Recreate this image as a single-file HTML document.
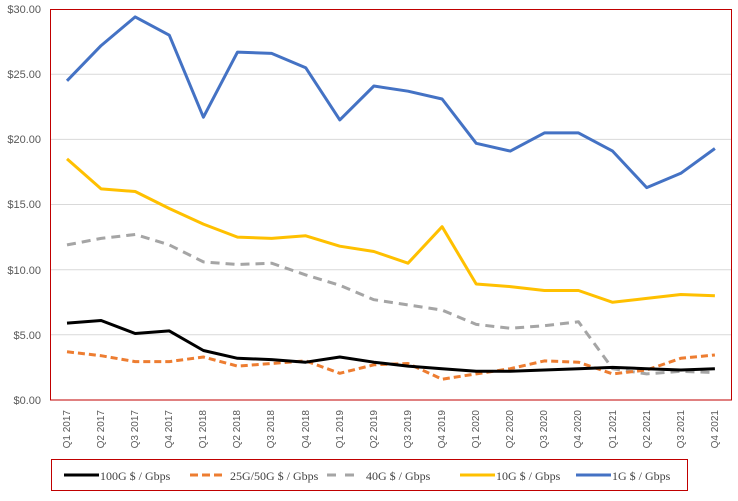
<!DOCTYPE html>
<html><head><meta charset="utf-8"><style>
body{margin:0;background:#fff;}
svg{display:block;font-family:"Liberation Sans",sans-serif;}
</style></head><body>
<svg id="c" width="738" height="501" viewBox="0 0 738 501" xmlns="http://www.w3.org/2000/svg">
<rect width="738" height="501" fill="#fff"/>
<g stroke="#d9d9d9" stroke-width="1">
<line x1="50" x2="732" y1="334.8" y2="334.8"/>
<line x1="50" x2="732" y1="269.7" y2="269.7"/>
<line x1="50" x2="732" y1="204.5" y2="204.5"/>
<line x1="50" x2="732" y1="139.4" y2="139.4"/>
<line x1="50" x2="732" y1="74.2" y2="74.2"/>
<line x1="50" x2="732" y1="400" y2="400"/>
</g>
<rect x="50.5" y="9.5" width="681" height="390.5" fill="none" stroke="#c00000" stroke-width="1"/>
<g font-size="11" fill="#595959" text-anchor="end">
<text x="41" y="404">$0.00</text>
<text x="41" y="339">$5.00</text>
<text x="41" y="274">$10.00</text>
<text x="41" y="208">$15.00</text>
<text x="41" y="143">$20.00</text>
<text x="41" y="78">$25.00</text>
<text x="41" y="13">$30.00</text>
</g>
<g id="xl" font-size="10" fill="#595959" text-anchor="end">
<text transform="translate(70,410) rotate(-90)">Q1 2017</text>
<text transform="translate(104,410) rotate(-90)">Q2 2017</text>
<text transform="translate(138,410) rotate(-90)">Q3 2017</text>
<text transform="translate(172,410) rotate(-90)">Q4 2017</text>
<text transform="translate(206,410) rotate(-90)">Q1 2018</text>
<text transform="translate(240,410) rotate(-90)">Q2 2018</text>
<text transform="translate(274,410) rotate(-90)">Q3 2018</text>
<text transform="translate(309,410) rotate(-90)">Q4 2018</text>
<text transform="translate(343,410) rotate(-90)">Q1 2019</text>
<text transform="translate(377,410) rotate(-90)">Q2 2019</text>
<text transform="translate(411,410) rotate(-90)">Q3 2019</text>
<text transform="translate(445,410) rotate(-90)">Q4 2019</text>
<text transform="translate(479,410) rotate(-90)">Q1 2020</text>
<text transform="translate(513,410) rotate(-90)">Q2 2020</text>
<text transform="translate(547,410) rotate(-90)">Q3 2020</text>
<text transform="translate(581,410) rotate(-90)">Q4 2020</text>
<text transform="translate(616,410) rotate(-90)">Q1 2021</text>
<text transform="translate(650,410) rotate(-90)">Q2 2021</text>
<text transform="translate(684,410) rotate(-90)">Q3 2021</text>
<text transform="translate(718,410) rotate(-90)">Q4 2021</text>
</g>
<g id="series" fill="none" stroke-width="3" stroke-linejoin="round"></g>
<rect x="51.5" y="459.5" width="636" height="31" fill="none" stroke="#c00000" stroke-width="1"/>
<g stroke-width="3">
<line x1="64" x2="99" y1="475" y2="475" stroke="#000"/>
<line x1="190" x2="226" y1="475" y2="475" stroke="#ed7d31" stroke-dasharray="8,4"/>
<line x1="327" x2="362" y1="475" y2="475" stroke="#a5a5a5" stroke-dasharray="9,9"/>
<line x1="460" x2="495" y1="475" y2="475" stroke="#ffc000"/>
<line x1="576" x2="611" y1="475" y2="475" stroke="#4472c4"/>
</g>
<g font-family="'Liberation Serif',serif" font-size="12" fill="#404040">
<text x="100" y="480">100G $ / Gbps</text>
<text x="230" y="480">25G/50G $ / Gbps</text>
<text x="366" y="480">40G $ / Gbps</text>
<text x="496" y="480">10G $ / Gbps</text>
<text x="612" y="480">1G $ / Gbps</text>
</g>
</svg>
<script>
var D=[
["#a5a5a5","9,6",[11.9,12.4,12.7,11.9,10.6,10.4,10.5,9.6,8.8,7.7,7.3,6.9,5.8,5.5,5.7,6.0,2.4,2.0,2.2,2.1]],
["#ed7d31","7,4",[3.7,3.4,2.95,2.95,3.3,2.6,2.8,3.0,2.05,2.7,2.8,1.6,2.0,2.4,3.0,2.9,2.0,2.3,3.2,3.45]],
["#000000","",[5.9,6.1,5.1,5.3,3.8,3.2,3.1,2.9,3.3,2.9,2.6,2.4,2.2,2.2,2.3,2.4,2.5,2.4,2.3,2.4]],
["#ffc000","",[18.5,16.2,16.0,14.7,13.5,12.5,12.4,12.6,11.8,11.4,10.5,13.3,8.9,8.7,8.4,8.4,7.5,7.8,8.1,8.0]],
["#4472c4","",[24.5,27.2,29.4,28.0,21.7,26.7,26.6,25.5,21.5,24.1,23.7,23.1,19.7,19.1,20.5,20.5,19.1,16.3,17.4,19.3]]];
var g=document.getElementById('series'),ns="http://www.w3.org/2000/svg";
D.forEach(function(s){var p=document.createElementNS(ns,'polyline');
p.setAttribute('points',s[2].map(function(v,i){return (67+34.1*i).toFixed(1)+','+(400-v*13.03).toFixed(1)}).join(' '));
p.setAttribute('stroke',s[0]);if(s[1])p.setAttribute('stroke-dasharray',s[1]);g.appendChild(p);});
</script>
</body></html>
